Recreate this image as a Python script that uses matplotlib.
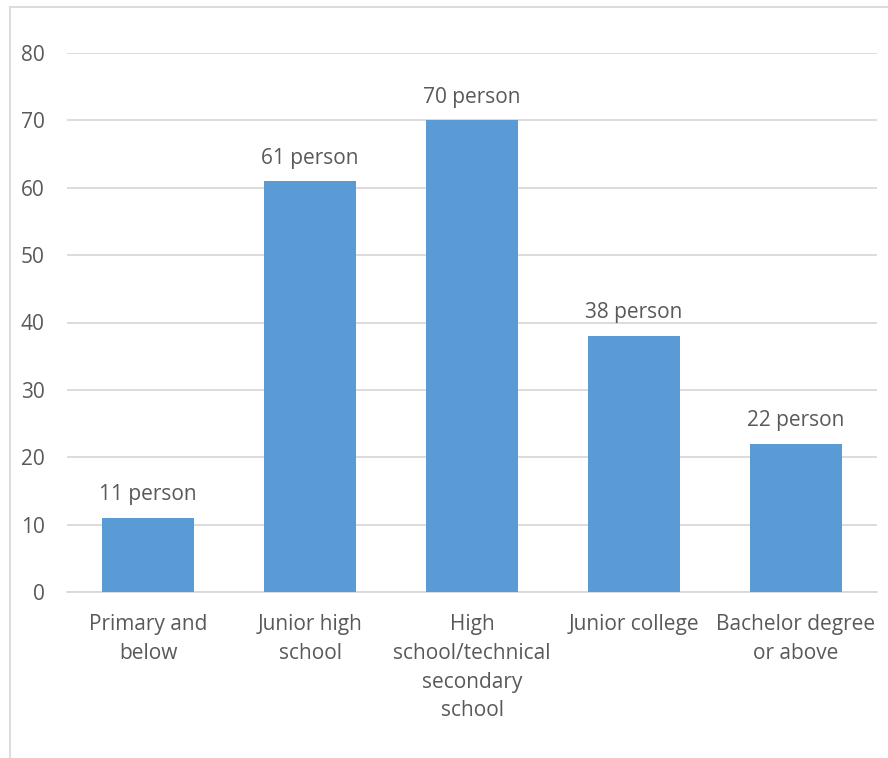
import matplotlib
matplotlib.use("Agg")
import matplotlib.pyplot as plt
from matplotlib.lines import Line2D

categories = [
    "Primary and\nbelow",
    "Junior high\nschool",
    "High\nschool/technical\nsecondary\nschool",
    "Junior college",
    "Bachelor degree\nor above",
]
counts = [11, 61, 70, 38, 22]
y_ticks = [0, 10, 20, 30, 40, 50, 60, 70, 80]

BAR = "#5B9BD5"
TEXT = "#595959"
GRID = "#D9D9D9"
FS = 15

plt.rcParams["font.family"] = ["Open Sans", "DejaVu Sans"]

fig = plt.figure(figsize=(8.88, 7.58), dpi=100)
ax = fig.add_axes([67 / 888, 1 - 592 / 758, 810 / 888, 539 / 758])

x = list(range(len(categories)))
bars = ax.bar(x, counts, width=0.574, color=BAR, zorder=3)

for rect, v in zip(bars, counts):
    ax.annotate(f"{v} person",
                xy=(rect.get_x() + rect.get_width() / 2, rect.get_height()),
                xytext=(0, 9), textcoords="offset points",
                ha="center", va="bottom", fontsize=FS, color=TEXT)

ax.set_xlim(-0.5, len(categories) - 0.5)
ax.set_ylim(0, 80)
ax.set_yticks(y_ticks)
ax.set_yticklabels([str(t) for t in y_ticks], fontsize=FS, color=TEXT)
ax.set_xticks(x)
ax.set_xticklabels(categories, fontsize=FS, color=TEXT, linespacing=1.48, va="top")
ax.tick_params(axis="both", length=0)
ax.tick_params(axis="y", pad=16)
ax.tick_params(axis="x", pad=16)

ax.yaxis.grid(True, color=GRID, linewidth=1.3, zorder=0)
ax.set_axisbelow(True)
for side in ("top", "right", "left"):
    ax.spines[side].set_visible(False)
ax.spines["bottom"].set_color(GRID)
ax.spines["bottom"].set_linewidth(1.3)

# chart-area border on the left and top edges
fx0, fy1 = 10 / 888, 1 - 7 / 758
fig.add_artist(Line2D([fx0, fx0], [0, fy1], transform=fig.transFigure,
                      color=GRID, linewidth=1.3))
fig.add_artist(Line2D([fx0, 1], [fy1, fy1], transform=fig.transFigure,
                      color=GRID, linewidth=1.3))

fig.savefig("out.png", dpi=100, facecolor="white")
